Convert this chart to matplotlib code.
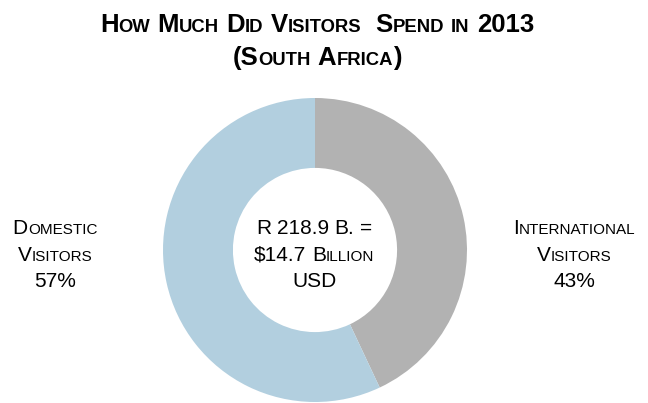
import matplotlib
matplotlib.use('Agg')
import matplotlib.pyplot as plt
from matplotlib import transforms

plt.rcParams['font.family'] = ['Liberation Sans', 'DejaVu Sans']

# spending split
segments = ['International Visitors', 'Domestic Visitors']
shares = [43, 57]
colors = ['#b2b2b2', '#b2cfdf']

title_lines = ['How Much Did Visitors  Spend in 2013', '(South Africa)']
center_lines = ['R 218.9 B. =', '$14.7 Billion', 'USD']
left_label = ['Domestic', 'Visitors', f'{shares[1]}%']
right_label = ['International', 'Visitors', f'{shares[0]}%']

W, H = 648, 403
fig = plt.figure(figsize=(W / 100, H / 100), dpi=100)
renderer = fig.canvas.get_renderer()


def ink_width(s, size, weight):
    t = fig.text(0, 0, s, fontsize=size, fontweight=weight)
    w = t.get_window_extent(renderer).width
    t.remove()
    return w


def advance(s, size, weight):
    # bar glyphs on both sides so side bearings and spaces are counted
    return ink_width('|' + s + '|', size, weight) - ink_width('||', size, weight)


def smallcaps(xpx, ypx, s, size, weight='normal', ratio=0.73):
    """Draw s centred at (xpx, ypx baseline) with lowercase set as small caps."""
    pieces = []
    for i, word in enumerate(s.split(' ')):
        if i:
            pieces.append((' ', size))
        run, low = '', None
        for ch in word:
            is_low = ch.islower()
            if low is not None and is_low != low:
                pieces.append((run, size * ratio if low else size))
                run = ''
            run += ch.upper()
            low = is_low
        if run:
            pieces.append((run, size * ratio if low else size))

    x0, y0 = xpx / W, 1 - ypx / H
    items = []
    for txt, sz in pieces:
        adv = advance(txt, sz, weight)
        if txt == ' ':
            items.append((None, adv, 0))
            continue
        t = fig.text(x0, y0, txt, fontsize=sz, fontweight=weight,
                     ha='left', va='baseline')
        ink = t.get_window_extent(renderer).width
        items.append((t, adv, (adv - ink) / 2))

    total = sum(a for _, a, _ in items)
    offset = -total / 2
    for t, adv, lsb in items:
        if t is not None:
            t.set_transform(transforms.offset_copy(fig.transFigure, fig=fig,
                                                   x=offset + lsb, y=0,
                                                   units='dots'))
        offset += adv


# donut
cx, cy, r = 315, 250, 152
ax = fig.add_axes([(cx - r) / W, (H - cy - r) / H, 2 * r / W, 2 * r / H])
ax.pie(shares, colors=colors, startangle=90, counterclock=False, radius=1,
       wedgeprops=dict(width=0.46, edgecolor='none'))
ax.set_xlim(-1, 1)
ax.set_ylim(-1, 1)
ax.axis('off')

# title
smallcaps(317, 32, title_lines[0], 18.5, weight='bold', ratio=0.72)
smallcaps(317, 65, title_lines[1], 18.5, weight='bold', ratio=0.72)

# text in the hole and side labels
baselines = [234, 261, 287]
for yb, line in zip(baselines, center_lines):
    smallcaps(314, yb, line, 15)
for yb, line in zip(baselines, left_label):
    smallcaps(55, yb, line, 15)
for yb, line in zip(baselines, right_label):
    smallcaps(574, yb, line, 15)

fig.savefig('out.png', dpi=100)
